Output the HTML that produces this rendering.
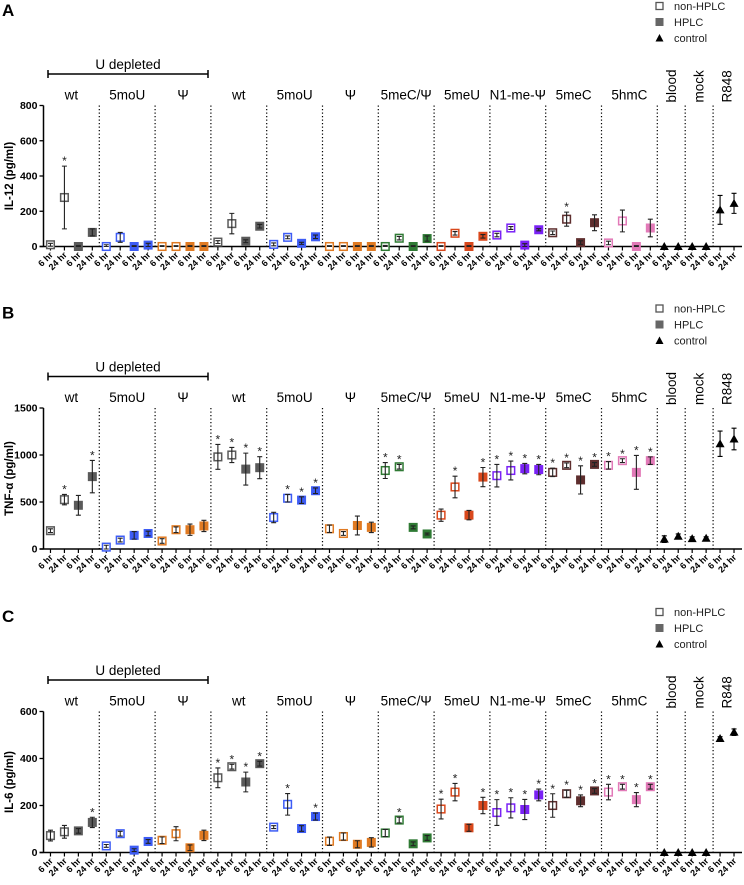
<!DOCTYPE html>
<html><head><meta charset="utf-8"><style>
html,body{margin:0;padding:0;background:#fff;}
svg{display:block;font-family:"Liberation Sans",sans-serif;}
</style></head><body>
<svg id="chart" width="744" height="885" viewBox="0 0 744 885" xmlns="http://www.w3.org/2000/svg"></svg>
<script>
// ---- data ----
const groupNames = ["wt","5moU","Ψ","wt","5moU","Ψ","5meC/Ψ","5meU","N1-me-Ψ","5meC","5hmC"];
const controlNames = ["blood","mock","R848"];
const groupColors = ["#5a5a5a","#3d5cf5","#e07a22","#2f7a34","#d9481c","#7a22f5","#5e2e2e","#e27ab8"];
const groupColorIdx = [0,1,2,0,1,2,3,4,5,6,7];
const timeLabels = ["6 hr","24 hr"];
const panelLetters = ["A","B","C"];
const panelTitles = ["IL-12 (pg/ml)","TNF-α (pg/ml)","IL-6 (pg/ml)"];
const panelMax = [800,1500,600];
const ticksA = [0,200,400,600,800];
const ticksB = [0,500,1000,1500];
const ticksC = [0,200,400,600];

// values per group: [nonHPLC 6hr, nonHPLC 24hr, HPLC 6hr, HPLC 24hr]
const il12Values = [[10,278,0,80],[0,52,0,8],[0,0,0,0],[25,130,30,115],[12,52,18,55],[0,0,0,0],[0,47,0,45],[0,75,0,58],[65,105,8,95],[78,155,22,135],[20,145,0,105]];
const il12Err = [[8,178,5,20],[10,28,5,10],[5,5,5,5],[8,58,8,10],[8,8,6,10],[5,5,5,5],[6,10,5,15],[5,10,5,10],[10,8,8,6],[10,40,10,45],[10,62,5,50]];
const il12Star = [[0,1,0,0],[0,0,0,0],[0,0,0,0],[0,0,0,0],[0,0,0,0],[0,0,0,0],[0,0,0,0],[0,0,0,0],[0,0,0,0],[0,1,0,0],[0,0,0,0]];
const il12Ctrl = [0,0,0,0,208,245];
const il12CtrlErr = [0,0,0,0,82,57];

const tnfValues = [[195,525,465,770],[20,95,145,165],[85,205,205,245],[980,1000,850,865],[335,540,520,620],[215,165,250,230],[835,875,230,160],[360,660,360,765],[780,835,855,845],[815,890,735,900],[890,940,815,940]];
const tnfErr = [[20,55,105,172],[20,20,40,25],[25,30,60,60],[132,80,170,117],[55,40,35,30],[40,20,100,55],[85,25,15,10],[65,115,50,102],[120,100,55,55],[45,25,150,20],[40,20,180,40]];
const tnfStar = [[0,1,0,1],[0,0,0,0],[0,0,0,0],[1,1,1,1],[0,1,1,1],[0,0,0,0],[1,1,0,0],[0,1,0,1],[1,1,1,1],[1,1,1,1],[1,1,1,1]];
const tnfCtrl = [105,135,110,115,1120,1170];
const tnfCtrlErr = [35,25,20,15,135,115];

const il6Values = [[72,88,92,128],[28,80,10,47],[52,80,20,73],[318,365,300,378],[108,205,102,153],[48,68,35,43],[83,138,37,62],[185,257,105,200],[170,190,183,245],[200,250,220,262],[257,280,225,280]];
const il6Err = [[23,27,10,22],[6,10,6,8],[14,30,12,22],[42,10,42,10],[6,46,12,15],[18,15,15,20],[15,12,8,10],[42,37,15,35],[55,43,43,25],[50,15,25,10],[33,10,30,10]];
const il6Star = [[0,0,0,1],[0,0,0,0],[0,0,0,0],[1,1,1,1],[0,1,0,1],[0,0,0,0],[0,1,0,0],[1,1,0,1],[1,1,1,1],[1,1,1,1],[1,1,1,1]];
const il6Ctrl = [0,0,0,0,485,512];
const il6CtrlErr = [0,0,0,0,8,14];

const panels = [
 {values:il12Values,err:il12Err,star:il12Star,ctrl:il12Ctrl,ctrlErr:il12CtrlErr,ticks:ticksA},
 {values:tnfValues,err:tnfErr,star:tnfStar,ctrl:tnfCtrl,ctrlErr:tnfCtrlErr,ticks:ticksB},
 {values:il6Values,err:il6Err,star:il6Star,ctrl:il6Ctrl,ctrlErr:il6CtrlErr,ticks:ticksC}
];

// ---- drawing ----
const svg = document.getElementById('chart');
const NS = "http://www.w3.org/2000/svg";
function mk(tag, attrs, parent, text){
  const e = document.createElementNS(NS, tag);
  for (const k in attrs) e.setAttribute(k, attrs[k]);
  if (text !== undefined) e.textContent = text;
  (parent||svg).appendChild(e);
  return e;
}
const X0 = 43.5, SLOT = 13.95, XEND = 742;
function xSlot(i){ return X0 + SLOT*(i+0.5); }
const PANEL_OFF = [0, 302.5, 606];
const BASE0 = 246.5, H = 141;

panels.forEach((p, pi) => {
  const off = PANEL_OFF[pi];
  const y0 = BASE0 + off, yTop = y0 - H;
  const yS = v => y0 - v / panelMax[pi] * H;
  const g = mk('g', {}, svg);
  
  

  const letter = mk('text', {x:2, y:16+off, 'font-size':17, 'font-weight':'bold'}, g, panelLetters[pi]);
  
  

  // legend
  const lg = mk('g', {}, g);
  
  
  const ly = [6+off, 22+off, 38+off];
  const l1 = mk('rect', {x:656, y:ly[0]-3.5, width:7, height:7, fill:'#fff', stroke:'#555', 'stroke-width':1.3}, lg);
   
  const l2 = mk('rect', {x:655.5, y:ly[1]-4, width:8, height:8, fill:'#666'}, lg);
   
  const l3 = mk('path', {d:`M${659.5} ${ly[2]-4} L${663.5} ${ly[2]+3.5} L${655.5} ${ly[2]+3.5} Z`, fill:'#000'}, lg);
   
  ["non-HPLC","HPLC","control"].forEach((t, i) => {
    const te = mk('text', {x:674, y:ly[i]+4, 'font-size':11, fill:'#222'}, lg, t);
    
    
  });

  // U depleted bracket
  const ud = mk('text', {x:128, y:off+69, 'font-size':13.5, 'text-anchor':'middle'}, g, 'U depleted');
   
  const br = mk('path', {d:`M48 ${off+70} V${off+78} M48 ${off+74} H208 M208 ${off+70} V${off+78}`, stroke:'#000', 'stroke-width':1.5, fill:'none'}, g);
   

  // group labels + dividers
  groupNames.forEach((n, gi) => {
    const cx = X0 + SLOT*4*gi + SLOT*2;
    const t = mk('text', {x:cx, y:yTop-6, 'font-size':13.5, 'text-anchor':'middle'}, g, n);
    
    
  });
  controlNames.forEach((n, ci) => {
    const cx = X0 + SLOT*44 + SLOT*2*ci + SLOT;
    const t = mk('text', {x:0, y:0, 'font-size':13.5, transform:`translate(${cx+4.5},${yTop-3}) rotate(-90)`}, g, n);
    
    
  });
  const divs = [];
  for (let gi=1; gi<=11; gi++) divs.push(X0 + SLOT*4*gi);
  divs.push(X0 + SLOT*46, X0 + SLOT*48);
  divs.forEach(dx => {
    const d = mk('line', {x1:dx, x2:dx, y1:yTop, y2:y0, stroke:'#000', 'stroke-width':1.2, 'stroke-dasharray':'1.2 2.3'}, g);
    
    
  });

  // axes
  const ya = mk('line', {x1:X0, x2:X0, y1:yTop, y2:y0, stroke:'#000', 'stroke-width':1.5}, g);
   
  const xa = mk('line', {x1:X0-4, x2:XEND, y1:y0, y2:y0, stroke:'#000', 'stroke-width':1.5}, g);
   
  p.ticks.forEach(tv => {
    const ty = yS(tv);
    const tl = mk('line', {x1:X0-4, x2:X0, y1:ty, y2:ty, stroke:'#000', 'stroke-width':1.3}, g);
     
    const tt = mk('text', {x:X0-6, y:ty+3.5, 'font-size':10.5, 'font-weight':'bold', 'text-anchor':'end'}, g, String(tv));
     
  });
  const yt = mk('text', {x:0, y:0, 'font-size':11.5, 'font-weight':'bold', 'text-anchor':'middle', transform:`translate(13,${(y0+yTop)/2}) rotate(-90)`}, g, panelTitles[pi]);
   

  for (let i=0; i<50; i++){
    const x = xSlot(i);
    const tk = mk('line', {x1:x, x2:x, y1:y0, y2:y0+4, stroke:'#000', 'stroke-width':1.2}, g);
     
    const lab = mk('text', {x:0, y:0, 'font-size':9, 'font-weight':'bold', 'text-anchor':'end', transform:`translate(${x+3},${y0+9}) rotate(-45)`}, g, timeLabels[i%2]);
     
  }

  function errBar(x, v, e, color){
    if (e <= 0) return;
    const a = yS(v+e), b = yS(Math.max(0, v-e));
    const eb = mk('path', {d:`M${x} ${a} V${b} M${x-2.5} ${a} H${x+2.5} M${x-2.5} ${b} H${x+2.5}`, stroke:color, 'stroke-width':1.1, fill:'none'}, g);
     
  }
  function star(x, v, e){
    const s = mk('text', {x:x, y:yS(v+e)-1, 'font-size':12, 'text-anchor':'middle', fill:'#222'}, g, '*');
     
  }

  p.values.forEach((arr, gi) => {
    const col = groupColors[groupColorIdx[gi]];
    arr.forEach((v, k) => {
      const i = gi*4 + k;
      const x = xSlot(i), y = yS(v);
      const e = p.err[gi][k];
      const filled = k >= 2;
      const m = filled
        ? mk('rect', {x:x-4.5, y:y-4.5, width:9, height:9, fill:col}, g)
        : mk('rect', {x:x-3.8, y:y-3.8, width:7.6, height:7.6, fill:'#fff', stroke:col, 'stroke-width':1.5}, g);
      
      
      errBar(x, v, e, '#222');
      if (p.star[gi][k]) star(x, v, e);
    });
  });
  p.ctrl.forEach((v, k) => {
    const x = xSlot(44+k), y = yS(v);
    const t = mk('path', {d:`M${x} ${y-4.5} L${x+4.5} ${y+3.5} L${x-4.5} ${y+3.5} Z`, fill:'#000'}, g);
    
    
    errBar(x, v, p.ctrlErr[k], '#000');
  });
});
</script>
</body></html>
